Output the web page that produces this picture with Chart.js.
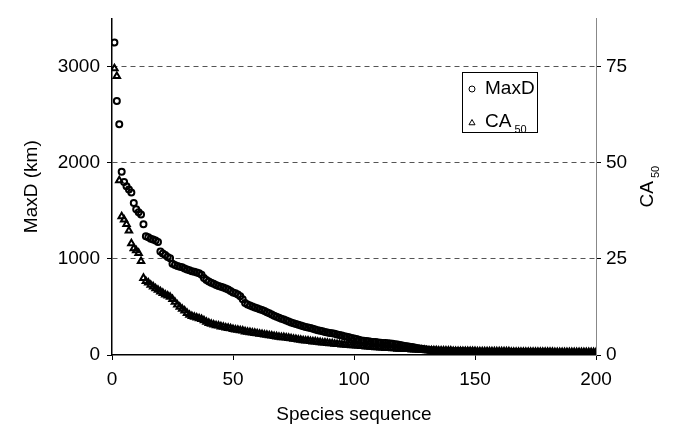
<!DOCTYPE html>
<html>
<head>
<meta charset="utf-8">
<script src="https://cdn.jsdelivr.net/npm/chart.js@4/dist/chart.umd.min.js"></script>
<style>
  html, body { margin: 0; padding: 0; background: #fff; }
  #wrap { width: 676px; height: 426px; }
</style>
</head>
<body>
<div id="wrap"><canvas id="chart" width="676" height="426"></canvas></div>
<script>
// values, species 1..200 in sequence order
const maxD = [
  3250, 2640, 2400, 1905, 1800, 1755, 1720, 1690, 1580, 1515,
  1485, 1460, 1360, 1235, 1225, 1210, 1200, 1190, 1175, 1075,
  1055, 1040, 1020, 1005, 950, 935, 925, 918, 912, 900,
  890, 880, 872, 865, 858, 850, 835, 800, 780, 765,
  752, 740, 728, 718, 710, 702, 692, 680, 665, 650,
  642, 630, 612, 580, 540, 525, 515, 505, 495, 485,
  475, 468, 458, 445, 433, 420, 408, 398, 388, 378,
  370, 358, 348, 338, 330, 322, 315, 308, 300, 292,
  286, 280, 272, 265, 258, 252, 246, 240, 235, 230,
  225, 220, 214, 208, 202, 196, 190, 184, 178, 172,
  166, 158, 152, 148, 145, 142, 139, 136, 134, 131,
  128, 126, 124, 122, 120, 117, 113, 108, 103, 98,
  94, 90, 86, 82, 78, 72, 68, 64, 60, 56,
  53, 50, 48, 46, 45, 44, 43, 42, 41, 40,
  40, 39, 39, 38, 38, 37, 37, 36, 36, 35,
  35, 35, 34, 34, 33, 33, 33, 32, 32, 32,
  31, 31, 31, 30, 30, 30, 29, 29, 29, 28,
  28, 28, 27, 27, 27, 26, 26, 26, 25, 25,
  25, 24, 24, 24, 23, 23, 23, 22, 22, 22,
  21, 21, 21, 20, 20, 20, 19, 19, 18, 18
];
const ca50 = [
  74.5, 72.5, 45.4, 36.0, 35.2, 34.0, 32.3, 29.0, 27.7, 27.2,
  26.5, 24.4, 20.0, 19.2, 18.8, 18.2, 17.8, 17.3, 16.9, 16.5,
  16.1, 15.7, 15.4, 15.1, 14.5, 13.8, 13.1, 12.5, 12.0, 11.5,
  10.9, 10.4, 10.1, 9.9, 9.7, 9.5, 9.3, 9.0, 8.6, 8.3,
  8.1, 7.9, 7.7, 7.6, 7.4, 7.3, 7.1, 7.0, 6.9, 6.7,
  6.6, 6.5, 6.4, 6.3, 6.1, 6.0, 5.9, 5.8, 5.7, 5.6,
  5.5, 5.4, 5.3, 5.2, 5.1, 5.0, 4.9, 4.8, 4.7, 4.6,
  4.6, 4.5, 4.4, 4.3, 4.2, 4.1, 4.0, 3.9, 3.8, 3.7,
  3.7, 3.6, 3.5, 3.5, 3.4, 3.3, 3.2, 3.2, 3.1, 3.0,
  3.0, 2.9, 2.8, 2.8, 2.7, 2.7, 2.6, 2.6, 2.5, 2.5,
  2.4, 2.4, 2.3, 2.3, 2.2, 2.2, 2.1, 2.1, 2.0, 2.0,
  1.9, 1.9, 1.8, 1.8, 1.8, 1.7, 1.7, 1.6, 1.6, 1.6,
  1.5, 1.5, 1.5, 1.4, 1.4, 1.4, 1.3, 1.3, 1.3, 1.2,
  1.2, 1.2, 1.2, 1.2, 1.1, 1.1, 1.1, 1.1, 1.1, 1.1,
  1.0, 1.0, 1.0, 1.0, 1.0, 1.0, 1.0, 1.0, 1.0, 1.0,
  0.9, 0.9, 0.9, 0.9, 0.9, 0.9, 0.9, 0.9, 0.9, 0.9,
  0.9, 0.9, 0.9, 0.9, 0.8, 0.8, 0.8, 0.8, 0.8, 0.8,
  0.8, 0.8, 0.8, 0.8, 0.8, 0.8, 0.8, 0.8, 0.8, 0.8,
  0.8, 0.8, 0.7, 0.7, 0.7, 0.7, 0.7, 0.7, 0.7, 0.7,
  0.7, 0.7, 0.7, 0.7, 0.7, 0.7, 0.7, 0.7, 0.7, 0.7
];
const xTicks = [0, 50, 100, 150, 200];
const leftTicks = [0, 1000, 2000, 3000];
const rightTicks = [0, 25, 50, 75];

const FONT = 'Arial, "Liberation Sans", Helvetica, sans-serif';
const tickFont = { family: FONT, size: 19 };
const plain = v => String(v);

const maxDPoints = maxD.map((v, i) => ({ x: i + 1, y: v }));
const caPoints = ca50.map((v, i) => ({ x: i + 1, y: v }));

// legend box + subscripted right-axis title (Chart.js can't do subscripts)
const extras = {
  id: 'extras',
  afterDraw(chart) {
    const ctx = chart.ctx;
    const a = chart.chartArea;
    ctx.save();
    ctx.fillStyle = '#fff';
    ctx.fillRect(462, 72, 75, 60);
    ctx.strokeStyle = '#000';
    ctx.lineWidth = 1;
    ctx.strokeRect(462.5, 72.5, 75, 60);

    Chart.helpers.drawPoint(ctx, { pointStyle: 'circle', radius: 3, borderWidth: 2 }, 472, 89);
    Chart.helpers.drawPoint(ctx, { pointStyle: 'triangle', radius: 3.5, borderWidth: 2 }, 472, 123);

    ctx.fillStyle = '#000';
    ctx.textBaseline = 'middle';
    ctx.textAlign = 'left';
    ctx.font = '19px ' + FONT;
    ctx.fillText('MaxD', 485, 89);
    ctx.fillText('CA', 485, 122);
    const caW = ctx.measureText('CA').width;
    ctx.font = '11px ' + FONT;
    ctx.fillText('50', 485 + caW + 3, 130);

    // right axis title, rotated
    ctx.translate(648, (a.top + a.bottom) / 2);
    ctx.rotate(-Math.PI / 2);
    ctx.font = '19px ' + FONT;
    const w1 = ctx.measureText('CA').width;
    ctx.font = '11px ' + FONT;
    const w2 = ctx.measureText('50').width;
    const start = -(w1 + 3 + w2) / 2;
    ctx.font = '19px ' + FONT;
    ctx.fillText('CA', start, 0);
    ctx.font = '11px ' + FONT;
    ctx.fillText('50', start + w1 + 3, 8);
    ctx.restore();
  }
};

new Chart(document.getElementById('chart'), {
  type: 'scatter',
  data: {
    datasets: [
      {
        label: 'MaxD',
        data: maxDPoints,
        yAxisID: 'y',
        pointStyle: 'circle',
        pointRadius: 3,
        borderWidth: 2,
        borderColor: '#000',
        backgroundColor: 'rgba(255,255,255,0)'
      },
      {
        label: 'CA50',
        data: caPoints,
        yAxisID: 'y1',
        pointStyle: 'triangle',
        pointRadius: 3.7,
        borderWidth: 2,
        borderColor: '#000',
        backgroundColor: 'rgba(255,255,255,0)'
      }
    ]
  },
  options: {
    responsive: false,
    animation: false,
    layout: { padding: { top: 13, left: 0, right: 0, bottom: 0 } },
    plugins: {
      legend: { display: false },
      tooltip: { enabled: false }
    },
    scales: {
      x: {
        type: 'linear',
        min: 0,
        max: 200,
        afterBuildTicks: s => { s.ticks = xTicks.map(v => ({ value: v })); },
        afterFit: s => { s.height = 71; },
        ticks: { font: tickFont, color: '#000', padding: 8, maxRotation: 0, callback: plain },
        grid: { drawOnChartArea: false, tickLength: 5, tickColor: '#000', tickWidth: 1 },
        border: { color: '#000', width: 1.5 },
        title: {
          display: true,
          text: 'Species sequence',
          font: { family: FONT, size: 19 },
          color: '#000',
          padding: { top: 3, bottom: 0 }
        }
      },
      y: {
        position: 'left',
        min: 0,
        max: 3500,
        afterBuildTicks: s => { s.ticks = leftTicks.map(v => ({ value: v })); },
        afterFit: s => { s.width = 112; },
        ticks: { font: tickFont, color: '#000', padding: 7, callback: plain },
        grid: {
          color: c => (c.tick && c.tick.value === 0 ? 'rgba(0,0,0,0)' : '#555'),
          lineWidth: 1,
          borderDash: [5, 4],
          tickLength: 5,
          tickColor: '#000',
          tickBorderDash: []
        },
        border: { color: '#000', width: 1.5, dash: [5, 4] },
        title: {
          display: true,
          text: 'MaxD (km)',
          font: { family: FONT, size: 19 },
          color: '#000',
          padding: { top: 20, bottom: 0 }
        }
      },
      y1: {
        position: 'right',
        min: 0,
        max: 87.5,
        afterBuildTicks: s => { s.ticks = rightTicks.map(v => ({ value: v })); },
        afterFit: s => { s.width = 80; },
        ticks: { font: tickFont, color: '#000', padding: 5, callback: plain },
        grid: { drawOnChartArea: false, tickLength: 5, tickColor: '#000' },
        border: { color: '#888', width: 1 }
      }
    }
  },
  plugins: [extras]
});
</script>
</body>
</html>
